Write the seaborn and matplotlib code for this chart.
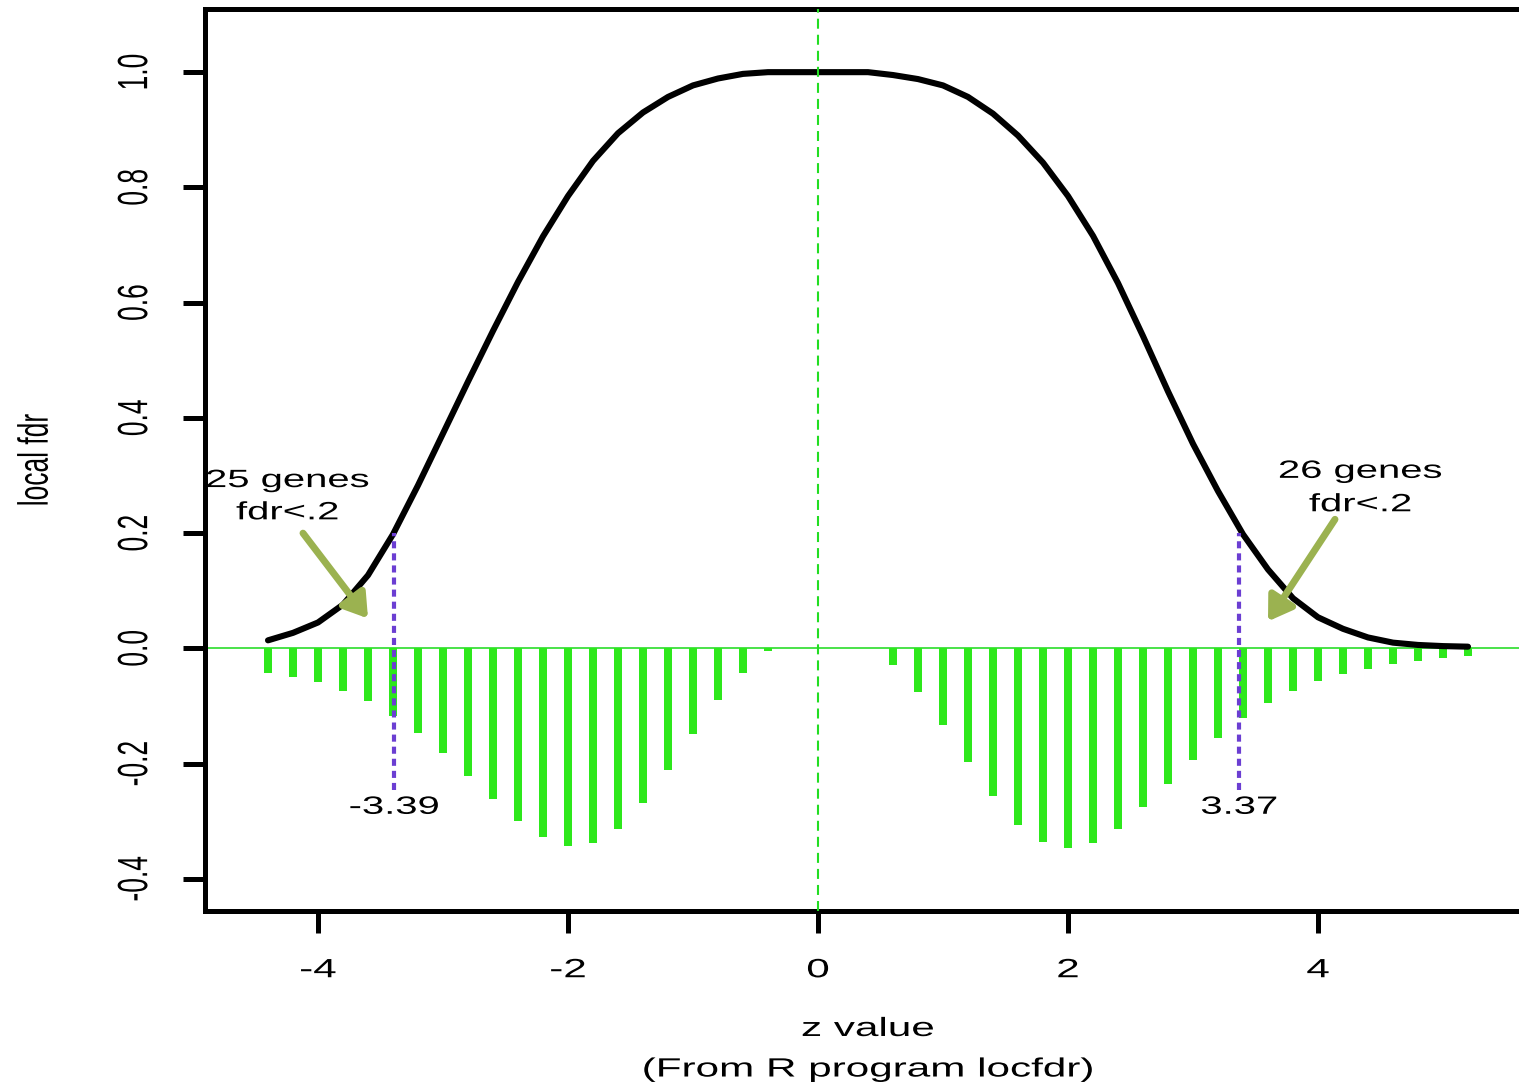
import matplotlib
matplotlib.use("Agg")
import matplotlib.pyplot as plt
from matplotlib import patheffects
from matplotlib.transforms import Affine2D
import pandas as pd
import seaborn as sns

# histogram bars drawn below zero (counts scaled)
bar_z = [-4.4, -4.2, -4.0, -3.8, -3.6, -3.4, -3.2, -3.0, -2.8, -2.6, -2.4,
         -2.2, -2.0, -1.8, -1.6, -1.4, -1.2, -1.0, -0.8, -0.6, -0.4,
         0.6, 0.8, 1.0, 1.2, 1.4, 1.6, 1.8, 2.0, 2.2, 2.4, 2.6, 2.8,
         3.0, 3.2, 3.4, 3.6, 3.8, 4.0, 4.2, 4.4, 4.6, 4.8, 5.0, 5.2]
bar_height = [-0.043, -0.050, -0.059, -0.074, -0.091, -0.117, -0.146, -0.181, -0.222, -0.261, -0.300,
              -0.328, -0.343, -0.338, -0.313, -0.268, -0.211, -0.149, -0.090, -0.042, -0.005,
              -0.028, -0.075, -0.133, -0.197, -0.257, -0.306, -0.336, -0.347, -0.338, -0.313, -0.276, -0.235,
              -0.193, -0.155, -0.121, -0.095, -0.074, -0.057, -0.045, -0.035, -0.027, -0.021, -0.016, -0.013]

# local fdr curve
curve_z = [-4.4, -4.2, -4.0, -3.8, -3.6, -3.4, -3.2, -3.0, -2.8, -2.6, -2.4, -2.2,
           -2.0, -1.8, -1.6, -1.4, -1.2, -1.0, -0.8, -0.6, -0.4, -0.2, 0.0, 0.2,
           0.4, 0.6, 0.8, 1.0, 1.2, 1.4, 1.6, 1.8, 2.0, 2.2, 2.4, 2.6,
           2.8, 3.0, 3.2, 3.4, 3.6, 3.8, 4.0, 4.2, 4.4, 4.6, 4.8, 5.0, 5.2]
curve_fdr = [0.014, 0.027, 0.045, 0.076, 0.127, 0.198, 0.283, 0.373, 0.463, 0.551, 0.636, 0.715,
             0.785, 0.846, 0.894, 0.930, 0.957, 0.977, 0.989, 0.997, 1.0, 1.0, 1.0, 1.0,
             1.0, 0.995, 0.988, 0.977, 0.957, 0.928, 0.890, 0.843, 0.785, 0.716, 0.634, 0.542,
             0.446, 0.355, 0.273, 0.198, 0.137, 0.087, 0.054, 0.034, 0.019, 0.010, 0.006, 0.004, 0.003]

# cut points where fdr drops below .2
fdr_threshold = 0.2
cut_z = [-3.39, 3.37]
cut_labels = ["-3.39", "3.37"]
gene_notes = [["25 genes", "fdr<.2"], ["26 genes", "fdr<.2"]]

x_ticks = [-4, -2, 0, 2, 4]
x_tick_labels = ["-4", "-2", "0", "2", "4"]
y_ticks = [-0.4, -0.2, 0.0, 0.2, 0.4, 0.6, 0.8, 1.0]
y_tick_labels = ["-0.4", "-0.2", "0.0", "0.2", "0.4", "0.6", "0.8", "1.0"]


class Stretch(patheffects.AbstractPathEffect):
    """widen glyphs along screen x - the source png is a horizontally stretched R plot"""
    def __init__(self, sx=1.6):
        super().__init__()
        self.sx = sx

    def draw_path(self, renderer, gc, tpath, affine, rgbFace=None):
        box = tpath.get_extents(affine)
        cx = 0.5 * (box.x0 + box.x1)
        widen = Affine2D().translate(-cx, 0).scale(self.sx, 1).translate(cx, 0)
        renderer.draw_path(gc, tpath, affine + widen, rgbFace)


sns.set_theme(style="white")
plt.rcParams["font.family"] = ["Liberation Sans", "DejaVu Sans"]
plt.rcParams["axes.unicode_minus"] = False
plt.rcParams["text.color"] = "black"
plt.rcParams["axes.labelcolor"] = "black"

bar_green = "#2DE81B"
line_green = "#3ADF3A"
purple = "#6B3ED2"
olive = "#9BB250"
wide = [Stretch(1.6)]

W, H = 1519, 1085
fig = plt.figure(figsize=(W / 100, H / 100), dpi=100)
# plot region runs a little past the right edge (original image is cropped there)
ax = fig.add_axes([205 / W, (H - 911) / H, (1531 - 205) / W, (911 - 9) / H])

ax.axhline(0, color=line_green, lw=1.3, zorder=1)

df = pd.DataFrame({"z": bar_z, "fdr_hist": bar_height})
sns.barplot(data=df, x="z", y="fdr_hist", native_scale=True, orient="x", width=0.32,
            color=bar_green, saturation=1, errorbar=None, linewidth=0, zorder=2, ax=ax)

sns.lineplot(x=curve_z, y=curve_fdr, color="black", linewidth=4.4, estimator=None,
             sort=False, zorder=3, ax=ax)

ax.axvline(0, color="#22DD22", lw=1.5, ls=(0, (4.8, 2.9)), zorder=3.5)
ax.vlines(cut_z, -0.245, fdr_threshold, colors=purple, lw=3,
          linestyles=[(0, (1.7, 1.2))], zorder=4)

# cut labels under the dotted lines
for z, lab in zip(cut_z, cut_labels):
    ax.text(z, -0.287, lab, ha="center", va="baseline", fontsize=18,
            path_effects=wide, zorder=5)

# gene count notes + arrows
note_pos = [(-4.245, 0.280, 0.224), (4.338, 0.296, 0.238)]
for (x, y1, y2), lines in zip(note_pos, gene_notes):
    ax.text(x, y1, lines[0], ha="center", va="baseline", fontsize=18,
            path_effects=wide, zorder=2, clip_on=False)
    ax.text(x, y2, lines[1], ha="center", va="baseline", fontsize=18,
            path_effects=wide, zorder=2, clip_on=False)

arrow_style = dict(arrowstyle="-|>,head_length=0.7,head_width=0.45", lw=5,
                   color=olive, mutation_scale=20, shrinkA=0, shrinkB=0)
ax.annotate("", xy=(-3.6, 0.052), xytext=(-4.12, 0.20), arrowprops=arrow_style, zorder=5)
ax.annotate("", xy=(3.6, 0.047), xytext=(4.136, 0.224), arrowprops=arrow_style, zorder=5)

ax.set_xlim(-4.904, 5.704)
ax.set_ylim(-0.4557, 1.1096)

ax.set_xticks(x_ticks, labels=x_tick_labels, fontsize=19, path_effects=wide)
ax.set_yticks(y_ticks, labels=y_tick_labels, fontsize=19, rotation=90, va="center",
              path_effects=wide)
ax.tick_params(axis="x", bottom=True, direction="out", length=16, width=3.6, pad=18,
               colors="black", labelcolor="black")
ax.tick_params(axis="y", left=True, direction="out", length=16, width=3.6, pad=26,
               colors="black", labelcolor="black")

for side in ["left", "bottom", "top"]:
    ax.spines[side].set_color("black")
    ax.spines[side].set_linewidth(3.6)
ax.spines["right"].set_visible(False)

ax.set_xlabel("z value\n(From R program locfdr)", fontsize=19, linespacing=1.87,
              path_effects=wide)
ax.xaxis.set_label_coords(0.5, -0.1175)
ax.xaxis.label.set_va("top")

ax.set_ylabel("local fdr", fontsize=19, path_effects=wide)
ax.yaxis.set_label_coords((35 - 205) / (1531 - 205), 0.5)
ax.yaxis.label.set_va("center")

fig.savefig("out.png", dpi=100, facecolor="white")
